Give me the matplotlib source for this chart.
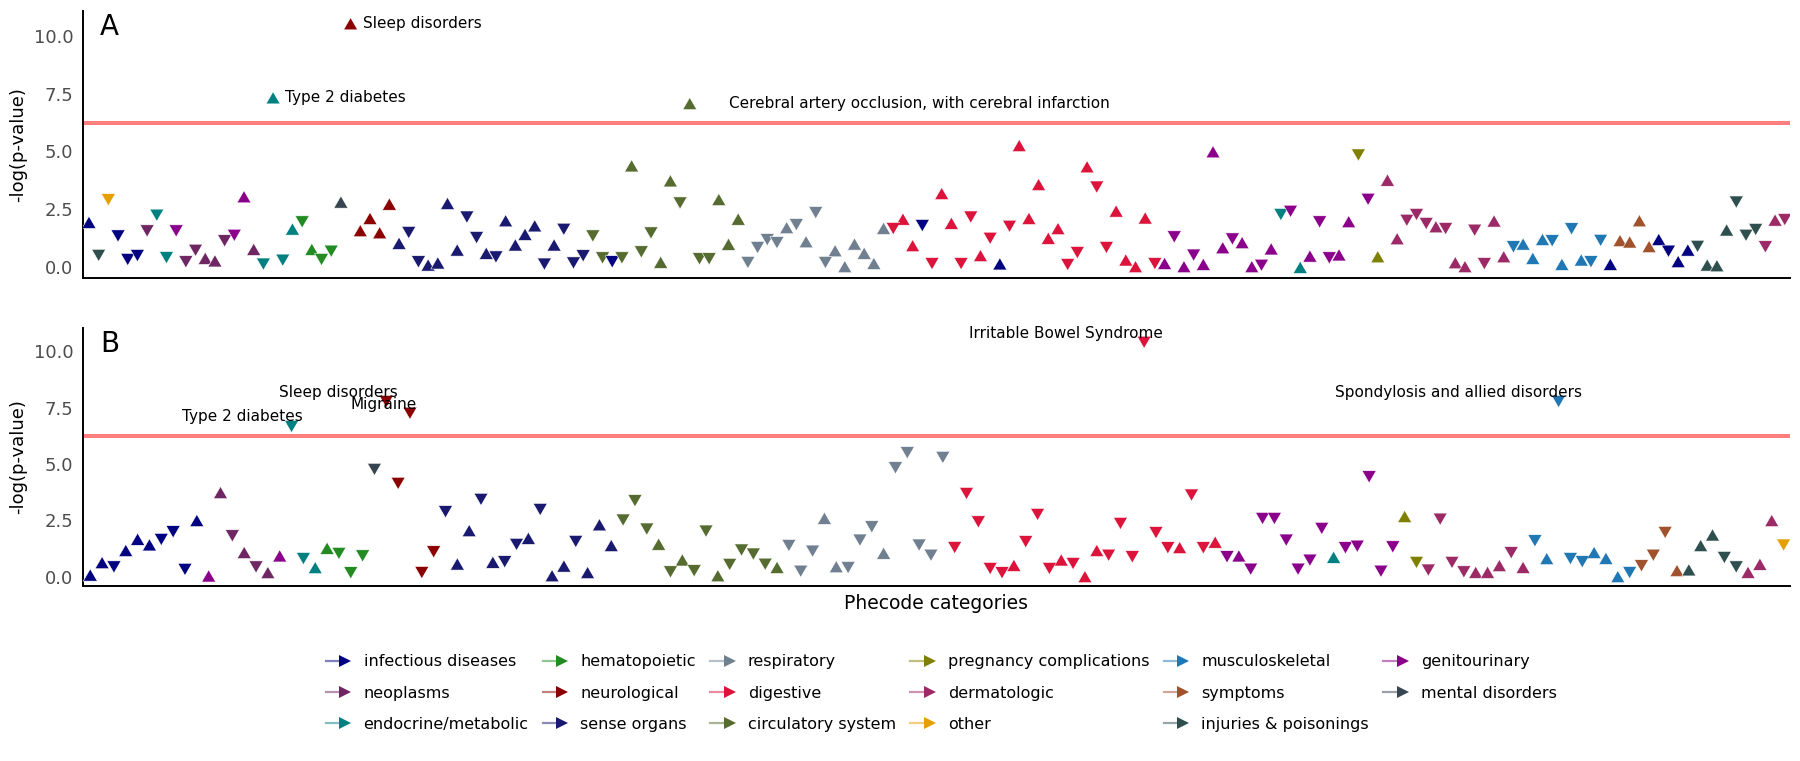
import matplotlib

matplotlib.use("Agg")
import matplotlib.pyplot as plt
from matplotlib.legend_handler import HandlerBase
from matplotlib.lines import Line2D

# phecode category -> (legend label, colour)
CATS = {
    "inf": ("infectious diseases", "#000080"),
    "neo": ("neoplasms", "#6E2763"),
    "endo": ("endocrine/metabolic", "#008080"),
    "hem": ("hematopoietic", "#228B22"),
    "neu": ("neurological", "#8B0000"),
    "sense": ("sense organs", "#191970"),
    "resp": ("respiratory", "#708090"),
    "dig": ("digestive", "#DC143C"),
    "circ": ("circulatory system", "#556B2F"),
    "preg": ("pregnancy complications", "#808000"),
    "derm": ("dermatologic", "#9C2A66"),
    "oth": ("other", "#E69F00"),
    "musc": ("musculoskeletal", "#1F77B4"),
    "sym": ("symptoms", "#A0522D"),
    "inj": ("injuries & poisonings", "#2F4F4F"),
    "gen": ("genitourinary", "#8B008B"),
    "ment": ("mental disorders", "#36454F"),
}

THRESHOLD = 6.25

# ---- panel A: -log(p), effect direction (U/D), category, in phecode order ----
A_logp = [
    1.92, 0.50, 2.91, 1.34, 0.32, 0.49, 1.56, 2.24, 0.40, 1.56,
    0.22, 0.72, 0.36, 0.25, 1.13, 1.37, 3.03, 0.75, 0.12, 7.32,
    0.29, 1.63, 1.95, 0.75, 0.32, 0.68, 2.80, 10.53, 1.56, 2.09,
    1.47, 2.71, 1.01, 1.49, 0.22, 0.07, 0.16, 2.74, 0.72, 2.16,
    1.27, 0.58, 0.43, 1.99, 0.94, 1.40, 1.77, 0.12, 0.94, 1.63,
    0.17, 0.48, 1.34, 0.39, 0.22, 0.39, 4.37, 0.65, 1.47, 0.19,
    3.72, 2.77, 7.07, 0.35, 0.35, 2.91, 0.97, 2.06, 0.19, 0.84,
    1.18, 1.05, 1.69, 1.83, 1.08, 2.35, 0.19, 0.69, 0.00, 0.98,
    0.58, 0.14, 1.66, 1.66, 2.06, 0.91, 1.79, 0.14, 3.17, 1.88,
    0.14, 2.16, 0.48, 1.24, 0.12, 1.76, 5.25, 2.09, 3.56, 1.23,
    1.65, 0.10, 0.62, 4.33, 3.46, 0.84, 2.41, 0.29, 0.00, 2.11,
    0.14, 0.14, 1.30, 0.00, 0.51, 0.10, 4.98, 0.82, 1.21, 1.04,
    0.00, 0.07, 0.77, 2.27, 2.41, -0.03, 0.46, 1.95, 0.39, 0.51,
    1.95, 4.85, 2.93, 0.43, 3.75, 1.21, 2.02, 2.27, 1.88, 1.73,
    1.66, 0.17, 0.00, 1.59, 0.14, 1.98, 0.43, 0.87, 0.98, 0.36,
    1.18, 1.13, 0.10, 1.65, 0.29, 0.22, 1.15, 0.10, 1.13, 1.07,
    1.99, 0.87, 1.18, 0.68, 0.22, 0.72, 0.89, 0.07, 0.04, 1.59,
    2.81, 1.37, 1.62, 0.87, 2.02, 2.05,
]
A_dir = (
    "UDDDDDDDDD" "DDUUDDUUDU" "DUDUDDUUUU" "UUUDDUUUUD"
    "DUDUUUUDUD" "DDDDDDUDDU" "UDUDDUUUDD" "DDUDUDDUUU"
    "UUUDUUDDUU" "DDUDUDUUUU" "UDDUDDUUUU" "DUDUDUUUDU"
    "UDUDDUUDDU" "UDDUUUDDDU" "DUUDDUUDUU" "UDUDUDDUUU"
    "UUUDUUDUUU" "DDDDUD"
)
A_cat = [
    "inf", "inj", "oth", "inf", "inf", "inf", "neo", "endo", "endo", "gen",
    "neo", "neo", "neo", "neo", "neo", "gen", "gen", "neo", "endo", "endo",
    "endo", "endo", "hem", "hem", "hem", "hem", "ment", "neu", "neu", "neu",
    "neu", "neu", "sense", "sense", "sense", "sense", "sense", "sense", "sense", "sense",
    "sense", "sense", "sense", "sense", "sense", "sense", "sense", "sense", "sense", "sense",
    "sense", "sense", "circ", "circ", "inf", "circ", "circ", "circ", "circ", "circ",
    "circ", "circ", "circ", "circ", "circ", "circ", "circ", "circ", "resp", "resp",
    "resp", "resp", "resp", "resp", "resp", "resp", "resp", "resp", "resp", "resp",
    "resp", "resp", "resp", "dig", "dig", "dig", "inf", "dig", "dig", "dig",
    "dig", "dig", "dig", "dig", "inf", "dig", "dig", "dig", "dig", "dig",
    "dig", "dig", "dig", "dig", "dig", "dig", "dig", "dig", "dig", "dig",
    "dig", "gen", "gen", "gen", "gen", "gen", "gen", "gen", "gen", "gen",
    "gen", "gen", "gen", "endo", "gen", "endo", "gen", "gen", "gen", "gen",
    "gen", "preg", "gen", "preg", "derm", "derm", "derm", "derm", "derm", "derm",
    "derm", "derm", "derm", "derm", "derm", "derm", "derm", "musc", "musc", "musc",
    "musc", "musc", "musc", "musc", "musc", "musc", "musc", "inf", "sym", "sym",
    "sym", "sym", "inf", "inf", "inf", "inf", "inj", "inj", "inj", "inj",
    "inj", "inj", "inj", "derm", "derm", "derm",
]
A_labels = {19: "Type 2 diabetes", 27: "Sleep disorders",
            62: "Cerebral artery occlusion, with cerebral infarction"}

# ---- panel B ----
B_logp = [
    0.07, 0.62, 0.44, 1.16, 1.66, 1.41, 1.66, 2.00, 0.33, 2.49,
    0.03, 3.73, 1.82, 1.07, 0.44, 0.18, 0.92, 6.67, 0.81, 0.40,
    1.26, 1.04, 0.18, 0.93, 4.77, 7.78, 4.15, 7.26, 0.19, 1.11,
    2.89, 0.56, 2.04, 3.44, 0.64, 0.67, 1.44, 1.70, 2.99, 0.04,
    0.47, 1.57, 0.18, 2.30, 1.38, 2.52, 3.38, 2.12, 1.44, 0.22,
    0.74, 0.27, 2.03, 0.04, 0.55, 1.19, 1.01, 0.56, 0.41, 1.39,
    0.25, 1.14, 2.59, 0.44, 0.41, 1.63, 2.22, 1.04, 4.84, 5.51,
    1.41, 0.96, 5.30, 1.30, 3.70, 2.44, 0.37, 0.18, 0.50, 1.56,
    2.77, 0.37, 0.74, 0.59, 0.00, 1.16, 0.96, 2.37, 0.89, 10.41,
    1.96, 1.29, 1.29, 3.63, 1.29, 1.53, 0.89, 0.92, 0.34, 2.59,
    2.59, 1.63, 0.34, 0.74, 2.15, 0.86, 1.29, 1.36, 4.44, 0.25,
    1.33, 2.67, 0.64, 0.30, 2.56, 0.64, 0.22, 0.19, 0.19, 0.49,
    1.07, 0.41, 1.60, 0.80, 7.78, 0.81, 0.67, 1.07, 0.81, 0.00,
    0.19, 0.49, 0.96, 1.97, 0.27, 0.30, 1.38, 1.85, 0.86, 0.44,
    0.19, 0.55, 2.49, 1.41,
]
B_dir = (
    "UUDUUUDDDU" "UUDUDUUDDU" "UDDDDDDDDD" "DUUDUDDUDU"
    "UDUUUDDDUD" "UDDUDDDDUD" "DDUUDDDUDD" "DDDDDDDDUD"
    "DDUDUUDDDD" "DDUDDUDUDD" "DDDDDUDDDD" "DUDDDDDUUU"
    "DUDUDDDUUU" "DDDDUUUUDD" "UUUD"
)
B_cat = [
    "inf", "inf", "inf", "inf", "inf", "inf", "inf", "inf", "inf", "inf",
    "gen", "neo", "neo", "neo", "neo", "neo", "gen", "endo", "endo", "endo",
    "hem", "hem", "hem", "hem", "ment", "neu", "neu", "neu", "neu", "neu",
    "sense", "sense", "sense", "sense", "sense", "sense", "sense", "sense", "sense", "sense",
    "sense", "sense", "sense", "sense", "sense", "circ", "circ", "circ", "circ", "circ",
    "circ", "circ", "circ", "circ", "circ", "circ", "circ", "circ", "circ", "resp",
    "resp", "resp", "resp", "resp", "resp", "resp", "resp", "resp", "resp", "resp",
    "resp", "resp", "resp", "dig", "dig", "dig", "dig", "dig", "dig", "dig",
    "dig", "dig", "dig", "dig", "dig", "dig", "dig", "dig", "dig", "dig",
    "dig", "dig", "dig", "dig", "dig", "dig", "gen", "gen", "gen", "gen",
    "gen", "gen", "gen", "gen", "gen", "endo", "gen", "gen", "gen", "gen",
    "gen", "preg", "preg", "derm", "derm", "derm", "derm", "derm", "derm", "derm",
    "derm", "derm", "musc", "musc", "musc", "musc", "musc", "musc", "musc", "musc",
    "musc", "sym", "sym", "sym", "sym", "inj", "inj", "inj", "inj", "inj",
    "derm", "derm", "derm", "oth",
]
B_labels = {17: "Type 2 diabetes", 25: "Sleep disorders", 27: "Migraine",
            89: "Irritable Bowel Syndrome", 124: "Spondylosis and allied disorders"}

# equilateral triangles like ggplot shapes 17 / 25
TRI_UP = [(0, 0.866), (-1, -0.866), (1, -0.866)]
TRI_DN = [(0, -0.866), (-1, 0.866), (1, 0.866)]


class ArrowHandle(HandlerBase):
    """Legend key: faded stem with a solid right-pointing triangle at the end."""

    def create_artists(self, legend, orig, xdescent, ydescent, width, height, fontsize, trans):
        c = orig.get_color()
        ms = 9.0
        y = height / 2 - ydescent
        tip = width - xdescent
        stem = Line2D([-xdescent, tip - ms / 2], [y, y], color=c, alpha=0.5, lw=1.6, transform=trans)
        head = Line2D([tip - ms / 2], [y], marker=">", ms=ms, mew=0, color=c, ls="none", transform=trans)
        return [stem, head]


def panel(ax, logp, dirs, cats, labels, tag, ylim, label_style):
    n = len(logp)
    xs = list(range(n))
    for d, verts in (("U", TRI_UP), ("D", TRI_DN)):
        idx = [i for i in xs if dirs[i] == d]
        ax.scatter([xs[i] for i in idx], [logp[i] for i in idx], s=98, marker=verts,
                   c=[CATS[cats[i]][1] for i in idx], edgecolors="white", linewidths=0.4, zorder=3)
    ax.axhline(THRESHOLD, color="#FF7F7F", lw=2.9, zorder=2)
    for i, txt in labels.items():
        dx, dy, ha = label_style[i]
        ax.annotate(txt, (xs[i], logp[i]), xytext=(dx, dy), textcoords="offset pixels",
                    ha=ha, va="center", fontsize=11, zorder=4)
    ax.set_xlim(-0.6, n - 1 + 0.55)
    ax.set_ylim(*ylim)
    ax.set_yticks([0, 2.5, 5, 7.5, 10])
    ax.set_yticklabels(["0.0", "2.5", "5.0", "7.5", "10.0"])
    ax.tick_params(axis="y", length=0, pad=7, labelsize=13, labelcolor="#4D4D4D")
    ax.set_xticks([])
    for s in ("top", "right"):
        ax.spines[s].set_visible(False)
    for s in ("left", "bottom"):
        ax.spines[s].set_linewidth(1.4)
    ax.set_ylabel("-log(p-value)", fontsize=13, labelpad=5)
    ax.text(0.01, 0.992, tag, transform=ax.transAxes, fontsize=20, ha="left", va="top")


fig = plt.figure(figsize=(18, 7.61), dpi=100)
axA = fig.add_axes([0.0461, 0.6343, 0.9483, 0.3516])
axB = fig.add_axes([0.0461, 0.2300, 0.9483, 0.3390])

panel(axA, A_logp, A_dir, A_cat, A_labels, "A", (-0.5, 11.1),
      {19: (12, 0, "left"), 27: (13, 0, "left"), 62: (39, 0, "left")})
panel(axB, B_logp, B_dir, B_cat, B_labels, "B", (-0.41, 11.04),
      {17: (-49, 10, "center"), 25: (-48, 9, "center"), 27: (-26, 9, "center"),
       89: (-78, 9, "center"), 124: (-100, 9, "center")})
axB.set_xlabel("Phecode categories", fontsize=13.5, labelpad=6)

handles = [Line2D([], [], color=col, label=name) for name, col in CATS.values()]
fig.legend(handles=handles, ncol=6, loc="center", bbox_to_anchor=(0.523, 0.089),
           frameon=False, fontsize=11.5, handlelength=1.6, handletextpad=0.75,
           columnspacing=0.9, labelspacing=1.02, handler_map={Line2D: ArrowHandle()})

fig.savefig("out.png", dpi=100)
